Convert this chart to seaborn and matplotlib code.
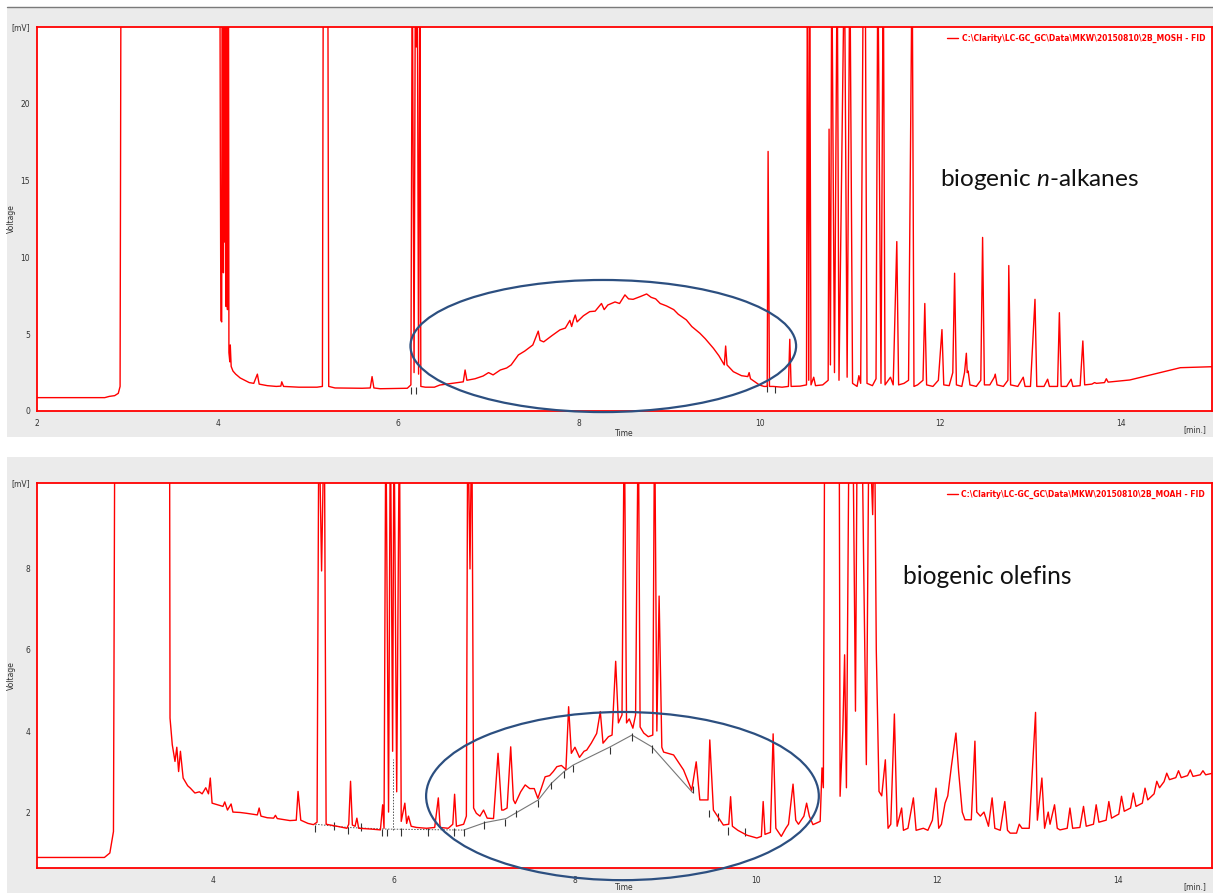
import matplotlib
matplotlib.use("Agg")
import matplotlib.pyplot as plt
import seaborn as sns
from matplotlib.patches import Ellipse, Rectangle
from matplotlib.lines import Line2D

# ---------------- data ----------------
mosh_label = r"C:\Clarity\LC-GC_GC\Data\MKW\20150810\2B_MOSH - FID"
moah_label = r"C:\Clarity\LC-GC_GC\Data\MKW\20150810\2B_MOAH - FID"

# MOSH trace: (time [min], signal [mV]); 30 = off scale
mosh_points = [
    (2.00, 0.87), (2.75, 0.87), (2.80, 0.95), (2.86, 1.00), (2.90, 1.15), (2.92, 1.6), (2.93, 30),
    (4.025, 30), (4.030, 16.8), (4.036, 5.9), (4.045, 5.8), (4.050, 30), (4.060, 30), (4.064, 9.0),
    (4.070, 30), (4.073, 11.0), (4.078, 30), (4.082, 14.8), (4.088, 30), (4.094, 6.8), (4.100, 30),
    (4.103, 18.7), (4.106, 30), (4.109, 6.6), (4.114, 30), (4.120, 30), (4.125, 3.8), (4.135, 3.2),
    (4.14, 4.3), (4.15, 2.9), (4.17, 2.6), (4.20, 2.4), (4.25, 2.15), (4.30, 2.0), (4.35, 1.85),
    (4.40, 1.8), (4.44, 2.4), (4.46, 1.75), (4.55, 1.65), (4.65, 1.6), (4.70, 1.62), (4.71, 1.9),
    (4.73, 1.6), (4.90, 1.55), (5.10, 1.55), (5.16, 1.6), (5.17, 30), (5.22, 30), (5.23, 1.6),
    (5.30, 1.5), (5.60, 1.48), (5.69, 1.5), (5.71, 2.24), (5.73, 1.5), (5.80, 1.45), (6.10, 1.48),
    (6.14, 1.7), (6.155, 30), (6.175, 2.5), (6.19, 30), (6.20, 23.7), (6.21, 30), (6.225, 2.4),
    (6.24, 30), (6.25, 1.6), (6.30, 1.55), (6.40, 1.55), (6.46, 1.69), (6.60, 1.8), (6.72, 1.9),
    (6.74, 2.67), (6.76, 2.0), (6.85, 2.1), (6.94, 2.28), (7.00, 2.5), (7.05, 2.35), (7.13, 2.67),
    (7.20, 2.8), (7.25, 3.0), (7.30, 3.4), (7.33, 3.65), (7.40, 3.9), (7.49, 4.3), (7.55, 5.2),
    (7.57, 4.6), (7.61, 4.5), (7.70, 4.9), (7.79, 5.28), (7.85, 5.4), (7.90, 5.9), (7.92, 5.5),
    (7.94, 5.93), (7.96, 6.25), (7.98, 5.8), (8.05, 6.2), (8.12, 6.47), (8.18, 6.5), (8.25, 7.0),
    (8.28, 6.6), (8.32, 6.9), (8.40, 7.1), (8.45, 7.0), (8.51, 7.56), (8.55, 7.3), (8.60, 7.27),
    (8.68, 7.45), (8.75, 7.62), (8.80, 7.4), (8.85, 7.3), (8.90, 7.0), (8.97, 6.84), (9.05, 6.6),
    (9.10, 6.3), (9.19, 5.93), (9.25, 5.5), (9.34, 5.06), (9.40, 4.7), (9.49, 4.08), (9.55, 3.6),
    (9.61, 3.0), (9.625, 4.23), (9.64, 3.0), (9.71, 2.56), (9.80, 2.3), (9.87, 2.24), (9.885, 2.5),
    (9.90, 2.1), (10.00, 1.69), (10.05, 1.6), (10.085, 1.6), (10.095, 16.9), (10.11, 1.6),
    (10.15, 1.6), (10.25, 1.55), (10.32, 1.6), (10.335, 4.67), (10.35, 1.6), (10.45, 1.62),
    (10.52, 1.7), (10.53, 30), (10.545, 2.0), (10.555, 30), (10.57, 1.7), (10.60, 2.2), (10.62, 1.65),
    (10.70, 1.7), (10.76, 2.0), (10.77, 18.35), (10.785, 3.0), (10.80, 30), (10.83, 2.5), (10.86, 30),
    (10.88, 2.0), (10.94, 30), (10.97, 2.2), (11.00, 30), (11.03, 1.8), (11.08, 1.6), (11.10, 2.3),
    (11.12, 1.8), (11.15, 30), (11.17, 30), (11.19, 1.8), (11.25, 1.65), (11.29, 2.1), (11.31, 30),
    (11.345, 1.8), (11.37, 30), (11.39, 1.7), (11.45, 2.2), (11.48, 1.7), (11.52, 11.03), (11.54, 1.7),
    (11.60, 1.8), (11.65, 2.0), (11.69, 30), (11.71, 1.6), (11.75, 1.7), (11.81, 2.0), (11.83, 7.0),
    (11.85, 1.7), (11.92, 1.6), (11.98, 2.0), (12.02, 5.3), (12.04, 1.7), (12.10, 1.65), (12.14, 2.5),
    (12.16, 8.97), (12.18, 1.7), (12.24, 1.6), (12.27, 2.5), (12.29, 3.76), (12.30, 2.5), (12.31, 2.6),
    (12.33, 1.7), (12.40, 1.6), (12.45, 2.0), (12.47, 11.3), (12.49, 1.7), (12.55, 1.7), (12.60, 2.2),
    (12.61, 2.4), (12.63, 1.7), (12.70, 1.6), (12.75, 2.0), (12.76, 9.47), (12.78, 1.7), (12.86, 1.6),
    (12.92, 2.2), (12.94, 1.6), (13.00, 1.6), (13.05, 7.27), (13.07, 1.6), (13.15, 1.6), (13.19, 2.07),
    (13.21, 1.6), (13.30, 1.6), (13.32, 6.4), (13.34, 1.6), (13.40, 1.6), (13.45, 2.07), (13.47, 1.6),
    (13.55, 1.65), (13.58, 4.56), (13.60, 1.7), (13.68, 1.75), (13.71, 1.85), (13.73, 1.8),
    (13.82, 1.85), (13.84, 2.1), (13.86, 1.88), (14.10, 2.02), (14.40, 2.45), (14.66, 2.82),
    (15.05, 2.89),
]

# MOAH trace: (time [min], signal [mV]); 12 = off scale
moah_points = [
    (2.05, 0.88), (2.80, 0.88), (2.86, 0.99), (2.90, 1.52), (2.915, 12), (3.52, 12), (3.525, 4.32),
    (3.55, 3.66), (3.58, 3.25), (3.60, 3.6), (3.62, 3.0), (3.64, 3.5), (3.67, 2.84), (3.72, 2.65),
    (3.75, 2.59), (3.80, 2.47), (3.85, 2.5), (3.88, 2.45), (3.92, 2.6), (3.95, 2.45), (3.97, 2.84),
    (3.99, 2.22), (4.05, 2.18), (4.11, 2.14), (4.13, 2.25), (4.16, 2.05), (4.20, 2.2), (4.22, 2.0),
    (4.30, 1.99), (4.37, 1.97), (4.49, 1.93), (4.51, 2.1), (4.53, 1.9), (4.60, 1.86), (4.67, 1.85),
    (4.69, 1.92), (4.71, 1.84), (4.85, 1.79), (4.92, 1.8), (4.94, 2.51), (4.97, 1.8), (5.05, 1.72),
    (5.11, 1.69), (5.15, 1.75), (5.17, 12), (5.20, 7.95), (5.23, 12), (5.25, 1.7), (5.37, 1.65),
    (5.48, 1.6), (5.50, 1.7), (5.52, 2.76), (5.54, 1.68), (5.57, 1.65), (5.59, 1.85), (5.61, 1.6),
    (5.75, 1.58), (5.85, 1.56), (5.875, 2.18), (5.89, 1.6), (5.91, 12), (5.94, 2.0), (5.96, 12),
    (5.985, 3.5), (6.00, 12), (6.03, 2.5), (6.06, 12), (6.08, 1.77), (6.10, 2.0), (6.12, 2.22),
    (6.14, 1.72), (6.16, 1.9), (6.19, 1.65), (6.25, 1.62), (6.36, 1.6), (6.45, 1.62), (6.49, 2.35),
    (6.51, 1.62), (6.60, 1.6), (6.65, 1.7), (6.67, 2.44), (6.69, 1.65), (6.77, 1.7), (6.80, 1.9),
    (6.815, 12), (6.84, 8.0), (6.86, 12), (6.88, 2.1), (6.91, 1.97), (6.95, 1.9), (6.99, 2.05),
    (7.03, 1.85), (7.10, 1.84), (7.15, 3.45), (7.19, 2.05), (7.21, 2.05), (7.25, 2.1), (7.29, 3.61),
    (7.32, 2.3), (7.34, 2.21), (7.40, 2.5), (7.45, 2.67), (7.50, 2.58), (7.55, 2.58), (7.59, 2.34),
    (7.63, 2.6), (7.67, 2.87), (7.72, 2.9), (7.76, 3.0), (7.80, 3.12), (7.85, 3.15), (7.90, 3.05),
    (7.93, 4.6), (7.96, 3.45), (8.00, 3.6), (8.05, 3.35), (8.10, 3.5), (8.13, 3.53), (8.18, 3.7),
    (8.24, 3.94), (8.28, 4.48), (8.31, 3.7), (8.37, 3.86), (8.41, 3.9), (8.45, 5.72), (8.48, 4.2),
    (8.52, 4.4), (8.545, 12), (8.57, 4.2), (8.60, 4.3), (8.64, 4.07), (8.67, 4.4), (8.70, 12),
    (8.72, 4.1), (8.76, 3.95), (8.81, 3.86), (8.86, 3.9), (8.88, 12), (8.905, 4.0), (8.93, 7.33),
    (8.96, 3.6), (8.98, 3.48), (9.09, 3.41), (9.20, 3.04), (9.29, 2.54), (9.34, 3.24), (9.38, 2.30),
    (9.47, 2.3), (9.49, 3.78), (9.53, 2.05), (9.64, 1.68), (9.70, 1.7), (9.72, 2.38), (9.74, 1.65),
    (9.80, 1.55), (9.90, 1.43), (10.01, 1.36), (10.06, 1.4), (10.08, 2.26), (10.10, 1.45),
    (10.16, 1.5), (10.19, 3.93), (10.22, 1.6), (10.28, 1.4), (10.33, 1.6), (10.36, 1.7), (10.41, 2.69),
    (10.44, 1.8), (10.47, 1.7), (10.53, 1.9), (10.56, 2.22), (10.59, 1.9), (10.63, 1.69), (10.71, 1.77),
    (10.73, 3.09), (10.745, 2.6), (10.76, 12), (10.92, 12), (10.93, 2.39), (10.96, 4.0), (10.98, 5.88),
    (11.00, 2.6), (11.03, 12), (11.07, 12), (11.10, 4.49), (11.12, 12), (11.17, 12), (11.19, 8.19),
    (11.22, 3.17), (11.25, 12), (11.29, 9.34), (11.31, 12), (11.33, 6.0), (11.36, 2.51), (11.39, 2.4),
    (11.43, 3.29), (11.46, 1.6), (11.49, 1.7), (11.53, 4.42), (11.56, 1.65), (11.61, 2.1), (11.63, 1.55),
    (11.68, 1.6), (11.74, 2.35), (11.77, 1.55), (11.85, 1.6), (11.90, 1.55), (11.95, 1.8), (11.99, 2.59),
    (12.02, 1.6), (12.05, 1.7), (12.09, 2.22), (12.12, 2.4), (12.16, 3.13), (12.21, 3.95), (12.24, 3.0),
    (12.28, 2.0), (12.31, 1.81), (12.38, 1.81), (12.42, 3.75), (12.44, 2.0), (12.48, 1.9), (12.52, 2.0),
    (12.57, 1.65), (12.61, 2.35), (12.64, 1.6), (12.70, 1.55), (12.75, 2.26), (12.78, 1.55),
    (12.81, 1.48), (12.88, 1.48), (12.91, 1.7), (12.94, 1.6), (13.02, 1.6), (13.09, 4.46), (13.11, 1.8),
    (13.16, 2.84), (13.19, 1.6), (13.23, 2.0), (13.25, 1.7), (13.30, 2.18), (13.33, 1.6), (13.36, 1.56),
    (13.44, 1.6), (13.47, 2.1), (13.50, 1.6), (13.58, 1.62), (13.62, 2.14), (13.65, 1.65), (13.73, 1.7),
    (13.76, 2.18), (13.79, 1.75), (13.87, 1.8), (13.90, 2.26), (13.93, 1.85), (14.01, 1.95),
    (14.04, 2.39), (14.07, 2.02), (14.14, 2.1), (14.17, 2.47), (14.20, 2.14), (14.27, 2.22),
    (14.30, 2.59), (14.33, 2.30), (14.40, 2.45), (14.43, 2.76), (14.46, 2.6), (14.51, 2.75),
    (14.54, 2.96), (14.57, 2.8), (14.64, 2.85), (14.67, 3.02), (14.70, 2.85), (14.77, 2.9),
    (14.80, 3.04), (14.83, 2.88), (14.91, 2.92), (14.94, 3.02), (14.97, 2.92), (15.05, 2.96),
]

# integration marks: (time, level)
mosh_marks = [(6.14, 1.58), (6.20, 1.58), (10.08, 1.75), (10.17, 1.65)]
moah_marks = [(5.13, 1.68), (5.34, 1.75), (5.49, 1.63), (5.64, 1.72), (5.87, 1.58), (5.92, 1.58),
              (6.08, 1.6), (6.38, 1.6), (6.66, 1.6), (6.77, 1.58), (6.99, 1.77), (7.23, 1.84),
              (7.35, 2.05), (7.595, 2.30), (7.74, 2.75), (7.88, 3.02), (7.98, 3.16), (8.39, 3.61),
              (8.63, 3.94), (8.85, 3.65), (9.30, 2.64), (9.48, 2.05), (9.58, 1.97), (9.69, 1.62),
              (9.88, 1.6)]
# integration baselines
moah_flat_base = [(5.13, 1.70), (5.49, 1.62), (5.92, 1.58), (6.77, 1.556)]
moah_drop_line = [(5.985, 1.56), (5.985, 3.3)]
moah_hump_base = [(6.77, 1.556), (7.005, 1.74), (7.24, 1.84), (7.595, 2.30), (7.74, 2.71),
                  (7.88, 3.0), (7.98, 3.16), (8.39, 3.61), (8.63, 3.90), (8.85, 3.61), (9.30, 2.48)]

top_yticks = [0, 5, 10, 15, 20, 25]
top_ylabels = ["0", "5", "10", "15", "20", "[mV]"]
bot_yticks = [2, 4, 6, 8, 10.12]
bot_ylabels = ["2", "4", "6", "8", "[mV]"]
top_xticks = [2, 4, 6, 8, 10, 12, 14]
bot_xticks = [4, 6, 8, 10, 12, 14]

# ---------------- figure ----------------
sns.set_style("white")
plt.rcParams["font.family"] = ["DejaVu Sans"]
plt.rcParams["mathtext.fontset"] = "custom"
plt.rcParams["mathtext.rm"] = "Lato"
plt.rcParams["mathtext.it"] = "Lato:italic"

W, H = 1213, 893
fig = plt.figure(figsize=(W / 100, H / 100), dpi=100, facecolor="white")
GRAY = "#EBEBEB"
fig.add_artist(Rectangle((7 / W, 1 - 437 / H), 1206 / W, 430 / H, transform=fig.transFigure,
                         facecolor=GRAY, edgecolor="none", zorder=-5))
fig.add_artist(Rectangle((7 / W, 0), 1206 / W, 436 / H, transform=fig.transFigure,
                         facecolor=GRAY, edgecolor="none", zorder=-5))
fig.add_artist(Line2D([7 / W, 1], [1 - 6.5 / H] * 2, transform=fig.transFigure,
                      color="#7a7a7a", lw=1.0, zorder=-4))

ax1 = fig.add_axes([37 / W, 1 - 411 / H, 1175 / W, 384 / H])
ax2 = fig.add_axes([37 / W, 1 - 868 / H, 1175 / W, 385 / H])

RED = "#ff0000"
ELL = "#2c4f80"


def unzip(pts):
    return [p[0] for p in pts], [p[1] for p in pts]


def style_axes(ax, xlim, ylim, xticks, yticks, ylabels, bottom_px, time_px):
    ax.set_facecolor("white")
    ax.set_xticks(xticks)
    ax.set_xticklabels([str(t) for t in xticks])
    ax.set_yticks(yticks)
    ax.set_yticklabels(ylabels)
    ax.set_xlim(*xlim)
    ax.set_ylim(*ylim)
    for s in ax.spines.values():
        s.set_visible(True)
        s.set_color(RED)
        s.set_linewidth(1.3)
    ax.tick_params(axis="both", direction="out", length=3, width=1, color=RED,
                   labelsize=5.5, labelcolor="#333333", pad=2)
    ax.tick_params(axis="x", length=4)
    ax.set_xlabel("Time", fontsize=5.5, color="#333333")
    ax.set_ylabel("Voltage", fontsize=5.5, color="#333333")
    ax.xaxis.set_label_coords(0.4996, -time_px / bottom_px)
    ax.yaxis.set_label_coords(-21.5 / 1175, 0.5)
    ax.text(0.9855, -19 / bottom_px, "[min.]", transform=ax.transAxes, fontsize=5.5,
            color="#333333", ha="center", va="center")
    ax.grid(False)


# top panel
t, v = unzip(mosh_points)
sns.lineplot(x=t, y=v, ax=ax1, color=RED, lw=1.0, estimator=None, sort=False,
             label=mosh_label, zorder=3)
mt, mv = unzip(mosh_marks)
ax1.vlines(mt, [x - 0.5 for x in mv], mv, colors="#333333", lw=0.8, zorder=2)
style_axes(ax1, (2.0, 15.01), (0, 25), top_xticks, top_yticks, top_ylabels, 384, 18)
ax1.add_patch(Ellipse((8.27, 4.23), 4.27, 8.6, transform=ax1.transData, fill=False,
                      ec=ELL, lw=1.6, clip_on=False, zorder=6))

# bottom panel
t, v = unzip(moah_points)
sns.lineplot(x=t, y=v, ax=ax2, color=RED, lw=1.0, estimator=None, sort=False,
             label=moah_label, zorder=3)
bt, bv = unzip(moah_flat_base)
ax2.plot(bt, bv, color="#555555", lw=0.7, ls=(0, (1.5, 1.5)), zorder=2)
bt, bv = unzip(moah_drop_line)
ax2.plot(bt, bv, color="#555555", lw=0.7, ls=(0, (1.5, 1.5)), zorder=2)
bt, bv = unzip(moah_hump_base)
ax2.plot(bt, bv, color="#777777", lw=0.8, zorder=2)
mt, mv = unzip(moah_marks)
ax2.vlines(mt, [x - 0.18 for x in mv], mv, colors="#333333", lw=0.8, zorder=2)
style_axes(ax2, (2.055, 15.04), (0.62, 10.12), bot_xticks, bot_yticks, bot_ylabels, 385, 15)
ax2.add_patch(Ellipse((8.525, 2.395), 4.34, 4.15, transform=ax2.transData, fill=False,
                      ec=ELL, lw=1.6, clip_on=False, zorder=6))

for ax in (ax1, ax2):
    ax.legend(loc="upper right", bbox_to_anchor=(1.0, 1.0), frameon=False,
              prop={"size": 5.5, "weight": "bold"}, labelcolor=RED,
              handlelength=1.4, handletextpad=0.5, borderaxespad=0.5)

fig.text(940 / W, 1 - 186 / H, r"biogenic $\mathit{n}$-alkanes", fontsize=17.6, family="Lato",
         color="#111111", va="baseline", ha="left")
fig.text(903 / W, 1 - 584 / H, "biogenic olefins", fontsize=17.7, family="Lato",
         color="#111111", va="baseline", ha="left")

fig.savefig("out.png", dpi=100, facecolor="white")
